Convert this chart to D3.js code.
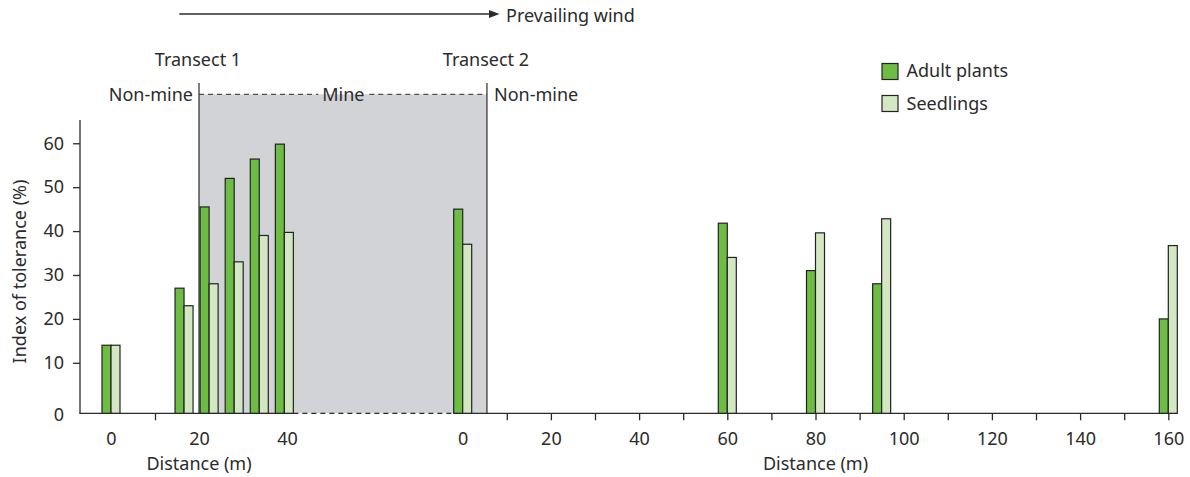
<!DOCTYPE html>
<html><head><meta charset="utf-8">
<script src="https://cdn.jsdelivr.net/npm/d3@7"></script>
<style>
body{margin:0;background:#fff;}
svg text{font-family:"Noto Sans",sans-serif;fill:#2b2b2b;}
</style></head>
<body><svg id="c" width="1190" height="477"></svg>
<script>
// ---- data ----
const yTickValues = [10, 20, 30, 40, 50, 60];
const t1Distance = [0, 16.6, 22.3, 28, 33.7, 39.4];
const t1Adult    = [14, 27, 45.5, 52, 56.4, 59.8];
const t1Seedling = [14, 23, 28, 33, 39, 39.7];
const t2Distance = [0, 60, 80, 95, 160];
const t2Adult    = [45, 41.8, 31, 28, 20];
const t2Seedling = [37, 34, 39.6, 42.8, 36.7];
const t1TickLabels = [0, 20, 40];
const t1TickMarks = [10];
const t2TickLabels = [0, 20, 40, 60, 80, 100, 120, 140, 160];
const t2TickMarks = [10,20,30,40,50,60,70,80,90,100,110,120,130,140,150,160];
const mineStartT1 = 20;   // m on transect 1
const mineEndT2 = 5.5;    // m on transect 2
const seriesNames = ["Adult plants", "Seedlings"];

// ---- style ----
const cAdult = "#6dbd45", cSeed = "#d4e7c3", cMine = "#d1d3d6", cInk = "#2b2b2b";
const barW = 9;
const FS = "18px";

const svg = d3.select("#c");
const y = d3.scaleLinear().domain([-1.5, 65.3]).range([413.3, 120]);
const base = y.range()[0];
const xL = d3.scaleLinear().domain([0, 40]).range([111, 287]);
const xR = d3.scaleLinear().domain([0, 160]).range([462.7, 1168.3]);

// mine shading
const mx0 = xL(mineStartT1), mx1 = xR(mineEndT2);
const topDash = 94.3;
svg.append("rect").attr("x", mx0).attr("y", topDash).attr("width", mx1 - mx0).attr("height", base - topDash).attr("fill", cMine);
[mx0, mx1].forEach(x => svg.append("line").attr("x1", x).attr("x2", x).attr("y1", 83).attr("y2", base).attr("stroke", cInk).attr("stroke-width", 1.2));
// dashed top line with gap for "Mine"
const mineMid = 343.3;
svg.append("line").attr("x1", mx0).attr("x2", mineMid - 25).attr("y1", topDash).attr("y2", topDash).attr("stroke", cInk).attr("stroke-width", 1).attr("stroke-dasharray", "5,4");
svg.append("line").attr("x1", mineMid + 26).attr("x2", mx1).attr("y1", topDash).attr("y2", topDash).attr("stroke", cInk).attr("stroke-width", 1).attr("stroke-dasharray", "5,4");
svg.append("text").attr("x", mineMid).attr("y", topDash).attr("dy", "0.36em").attr("text-anchor", "middle").style("font-size", FS).text("Mine");
svg.append("text").attr("x", mx0 - 6).attr("y", topDash).attr("dy", "0.36em").attr("text-anchor", "end").style("font-size", FS).text("Non-mine");
svg.append("text").attr("x", mx1 + 7).attr("y", topDash).attr("dy", "0.36em").attr("text-anchor", "start").style("font-size", FS).text("Non-mine");
svg.append("text").attr("x", mx0 - 1).attr("y", 60).attr("dy", "0.36em").attr("text-anchor", "middle").style("font-size", FS).text("Transect 1");
svg.append("text").attr("x", mx1 - 1).attr("y", 60).attr("dy", "0.36em").attr("text-anchor", "middle").style("font-size", FS).text("Transect 2");

// wind arrow
svg.append("line").attr("x1", 179.3).attr("x2", 491).attr("y1", 14).attr("y2", 14).attr("stroke", cInk).attr("stroke-width", 1.3);
svg.append("path").attr("d", "M489,10 L499.5,14 L489,18 Z").attr("fill", cInk);
svg.append("text").attr("x", 506).attr("y", 16).attr("dy", "0.36em").style("font-size", FS).text("Prevailing wind");

// baselines
const t1End = xL(t1Distance[t1Distance.length - 1]) + barW;
const t2Start = xR(t2Distance[0]) - barW;
svg.append("line").attr("x1", 79.3).attr("x2", t1End).attr("y1", base).attr("y2", base).attr("stroke", cInk).attr("stroke-width", 1.3);
svg.append("line").attr("x1", t1End).attr("x2", t2Start).attr("y1", base).attr("y2", base).attr("stroke", cInk).attr("stroke-width", 1.2).attr("stroke-dasharray", "5,4");
svg.append("line").attr("x1", t2Start).attr("x2", xR(160) + barW + 0.3).attr("y1", base).attr("y2", base).attr("stroke", cInk).attr("stroke-width", 1.3);

// bars
function drawBars(xs, dist, adult, seed) {
  const g = svg.append("g");
  dist.forEach((d, i) => {
    g.append("rect").attr("x", xs(d) - barW).attr("y", y(adult[i])).attr("width", barW).attr("height", base - y(adult[i]))
      .attr("fill", cAdult).attr("stroke", "#222").attr("stroke-width", 1.2);
    g.append("rect").attr("x", xs(d)).attr("y", y(seed[i])).attr("width", barW).attr("height", base - y(seed[i]))
      .attr("fill", cSeed).attr("stroke", "#222").attr("stroke-width", 1.2);
  });
}
drawBars(xL, t1Distance, t1Adult, t1Seedling);
drawBars(xR, t2Distance, t2Adult, t2Seedling);

// x axes
function xAxis(xs, marks, labels) {
  const gm = svg.append("g").attr("transform", `translate(0,${base})`)
    .call(d3.axisBottom(xs).tickValues(marks).tickSize(7).tickFormat(""));
  gm.select(".domain").remove();
  gm.selectAll(".tick line").attr("stroke", cInk).attr("stroke-width", 1.3);
  const gl = svg.append("g").attr("transform", `translate(0,${base})`)
    .call(d3.axisBottom(xs).tickValues(labels).tickSize(0).tickPadding(19));
  gl.select(".domain").remove();
  gl.selectAll("text").style("font-size", FS).attr("fill", cInk);
}
xAxis(xL, t1TickMarks, t1TickLabels);
xAxis(xR, t2TickMarks, t2TickLabels);

svg.append("text").attr("x", xL(20)).attr("y", 463.5).attr("dy", "0.36em").attr("text-anchor", "middle").style("font-size", FS).text("Distance (m)");
svg.append("text").attr("x", xR(80)).attr("y", 463.5).attr("dy", "0.36em").attr("text-anchor", "middle").style("font-size", FS).text("Distance (m)");

// y axis
const gy = svg.append("g").attr("transform", "translate(80,0)")
  .call(d3.axisLeft(y).tickValues(yTickValues).tickSize(7).tickPadding(9));
gy.select(".domain").attr("d", `M0,${y.range()[1]}V${base}`).attr("stroke", cInk).attr("stroke-width", 1.3);
gy.selectAll(".tick line").attr("stroke", cInk).attr("stroke-width", 1.3);
gy.selectAll("text").style("font-size", FS).attr("fill", cInk);
svg.append("text").attr("x", 64).attr("y", base + 1.5).attr("dy", "0.36em").attr("text-anchor", "end").style("font-size", FS).text("0");

svg.append("text").attr("transform", "translate(19.5,271.5) rotate(-90)").attr("dy", "0.36em").attr("text-anchor", "middle").style("font-size", FS).text("Index of tolerance (%)");

// legend
const lg = svg.append("g");
[cAdult, cSeed].forEach((c, i) => {
  lg.append("rect").attr("x", 882).attr("y", 63.5 + i * 32).attr("width", 16).attr("height", 16).attr("fill", c).attr("stroke", "#222").attr("stroke-width", 1.2);
  lg.append("text").attr("x", 906.5).attr("y", 71 + i * 32.5).attr("dy", "0.36em").style("font-size", FS).text(seriesNames[i]);
});
</script></body></html>
